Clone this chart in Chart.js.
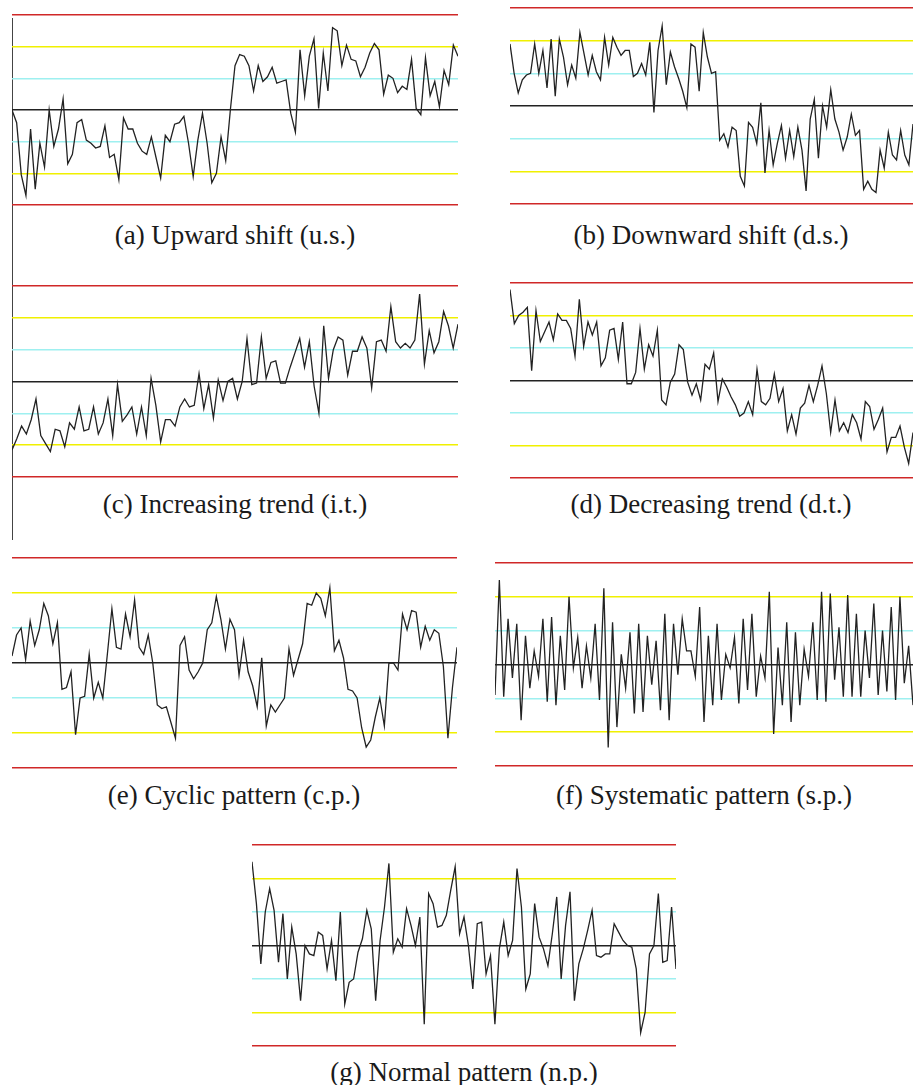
<!DOCTYPE html>
<html>
<head>
<meta charset="utf-8">
<script src="https://cdn.jsdelivr.net/npm/chart.js@4"></script>
<style>
body { margin: 0; background: #fff; width: 913px; height: 1085px; position: relative; overflow: hidden; }
canvas { position: absolute; }
.cap { position: absolute; font-family: "Liberation Serif", "Times New Roman", serif; font-size: 27px; line-height: 28px; color: #1a1a1a; white-space: nowrap; transform: translate(-50%, -50%); }
#axis { position: absolute; left: 12px; top: 18px; width: 1px; height: 522px; background: #444; }
</style>
</head>
<body>
<div id="axis"></div>
<canvas id="cA"></canvas>
<canvas id="cB"></canvas>
<canvas id="cC"></canvas>
<canvas id="cD"></canvas>
<canvas id="cE"></canvas>
<canvas id="cF"></canvas>
<canvas id="cG"></canvas>
<div class="cap" style="left:235px;top:235px">(a) Upward shift (u.s.)</div>
<div class="cap" style="left:711px;top:235px">(b) Downward shift (d.s.)</div>
<div class="cap" style="left:235px;top:504px">(c) Increasing trend (i.t.)</div>
<div class="cap" style="left:711px;top:504px">(d) Decreasing trend (d.t.)</div>
<div class="cap" style="left:234px;top:795px">(e) Cyclic pattern (c.p.)</div>
<div class="cap" style="left:704px;top:795px">(f) Systematic pattern (s.p.)</div>
<div class="cap" style="left:464px;top:1072px">(g) Normal pattern (n.p.)</div>
<script>
// control limits in sigma units
const limitLevels = [-3, -2, -1, 0, 1, 2, 3];
const limitColors = ['#d02828', '#f0f000', '#9ef0f0', '#222222', '#9ef0f0', '#f0f000', '#d02828'];
const limitWidths = [1.5, 1.5, 1.5, 1.4, 1.5, 1.5, 1.5];

const upwardShift = [0, -0.4, -2.05, -2.7, -0.6, -2.5, -1.05, -1.8, 0, -1.15, -0.6, 0.35, -1.7, -1.4, -0.4, -0.3,
  -0.95, -1.05, -1.2, -1.15, -0.5, -1.5, -1.4, -2.2, -0.25, -0.6, -0.6, -1.05, -1.3, -1.4, -0.85, -1.5, -2.15,
  -0.8, -1.0, -0.45, -0.4, -0.2, -1.05, -2.1, -0.95, -0.1, -1.05, -2.3, -2.0, -0.85, -1.6,
  0, 1.4, 1.75, 1.7, 1.4, 0.6, 1.4, 0.9, 1.05, 1.35, 0.85, 0.9, 0.95, -0.1, -0.7, 1.9, 0.45, 1.7, 2.25, 0.05,
  1.8, 0.6, 2.6, 2.5, 1.4, 2.05, 1.6, 1.55, 1.05, 1.35, 1.8, 2.1, 1.9, 0.5, 1.1, 1.0, 0.55, 0.75, 0.65, 1.6,
  0.05, -0.15, 1.65, 0.45, 0.9, 0.1, 1.25, 0.8, 2.05, 1.7];

const downwardShift = [1.9, 1.0, 0.4, 0.8, 0.95, 1.0, 1.9, 1.0, 1.7, 0.55, 2.05, 0.3, 2.05, 1.5, 0.65, 1.25, 0.85,
  2.25, 1.6, 0.95, 1.55, 1.05, 0.8, 2.1, 1.25, 2.1, 1.8, 1.55, 1.7, 1.7, 0.9, 1.0, 1.3, 0.95, 1.95, -0.2, 1.7,
  2.45, 0.65, 1.65, 1.2, 0.85, 0.45, -0.05, 1.9, 1.8, 0.45, 2.25, 1.5, 1.0,
  1.05, -1.05, -0.85, -1.25, -0.65, -0.75, -2.15, -2.45, -0.5, -0.65, -1.15, 0.1, -2.05, -0.75, -1.8, -1.15,
  -0.6, -1.6, -0.75, -1.55, -0.65, -1.35, -2.6, -0.4, 0.2, -1.6, 0, -0.65, 0.5, -0.4, -0.8, -1.35, -0.95,
  -0.25, -0.9, -0.75, -2.55, -2.3, -2.55, -2.65, -1.35, -1.9, -0.8, -1.5, -1.65, -0.75, -1.5, -1.8, -0.55];

const increasingTrend = [-2.15, -1.8, -1.4, -1.65, -1.2, -0.55, -1.7, -1.95, -2.2, -1.5, -1.55, -2.05, -1.3, -1.5,
  -0.8, -1.55, -1.5, -0.8, -1.65, -1.3, -0.55, -1.7, -0.1, -1.25, -1.05, -0.8, -1.65, -0.8, -1.7, 0.1, -0.75,
  -1.9, -1.2, -1.2, -1.4, -0.8, -0.55, -0.8, -0.75, 0.25, -0.85, -0.1, -1.15, 0.05, -0.6, 0,
  0.1, -0.55, 0, 1.35, -0.1, -0.05, 1.4, 0.1, 0.6, 0.65, -0.05, -0.05, 0.45, 0.9, 1.35, 0.45, 1.25, -0.15,
  -1.0, 1.75, 0.1, 1.0, 1.4, 1.3, 0.2, 0.95, 0.95, 1.4, 1.05, -0.2, 1.25, 1.3, 0.95, 2.35, 1.25, 1.05, 1.2,
  1.05, 1.3, 2.75, 0.55, 1.6, 0.9, 1.25, 2.2, 1.75, 1.05, 1.8];

const decreasingTrend = [2.8, 1.75, 2.0, 2.1, 2.25, 0.3, 2.15, 1.2, 1.5, 1.8, 1.25, 2.05, 1.85, 1.85, 1.6, 0.75,
  2.5, 1.05, 1.8, 1.4, 1.8, 0.45, 0.7, 1.55, 1.6, 0.65, 1.8, -0.1, -0.1, 0.25, 1.6, 0.35, 1.1, 0.75, 1.55,
  -0.6, -0.75, -0.05, 0.2, 1.1, 0.95, -0.05, -0.45, -0.1, -0.6, 0.5, 0.35, 0.85, -0.65,
  0.05, -0.2, -0.5, -0.75, -1.1, -1.0, -0.65, -1.05, 0.35, -0.65, -0.75, -0.55, 0.2, -0.65, -0.25, -1.55,
  -1.05, -1.65, -0.85, -0.7, -0.15, -0.65, -0.15, 0.45, -0.4, -1.6, -0.6, -1.55, -1.3, -1.6, -1.05, -1.3,
  -1.8, -0.65, -0.8, -1.5, -1.2, -0.85, -2.2, -1.75, -1.75, -1.4, -2.05, -2.55, -1.6];

const cyclicPattern = [0.2, 0.8, 1.0, 0.1, 1.2, 0.5, 0.95, 1.7, 1.35, 0.55, 1.15, -0.75, -0.7, -0.25, -2.05,
  -1.0, -0.95, 0.25, -1.0, -0.55, -1.0, 0.25, 1.55, 0.45, 0.4, 1.4, 0.75, 1.8, 0.45, 0.25, 0.8, 0, -1.2,
  -1.3, -1.25, -1.7, -2.15, 0.5, 0.75, -0.2, -0.45, -0.25, 0, 0.95, 1.15, 1.9, 1.25, 0.4, 1.25, 0.95, -0.35,
  0.65, -0.25, -0.65, -1.25, 0.15, -1.8, -1.2, -1.4, -1.2, -1.0, 0.4, -0.35, 0.1, 0.55, 1.7, 1.65, 2.0,
  1.85, 1.35, 2.15, 0.35, 0.65, 0.15, -0.75, -0.8, -1.0, -1.85, -2.4, -2.2, -1.55, -1.0, -1.8, 0, 0, -0.2,
  1.4, 0.95, 1.5, 1.45, 0.45, 1.05, 0.65, 0.95, 0.85, -0.1, -2.15, -0.7, 0.45];

const systematicPattern = [-0.9, 2.5, -0.95, 1.35, -0.4, 1.2, -1.65, 0.85, -0.7, 0.4, -0.35, 1.35, -1.1, 1.4,
  -1.2, 0.85, -0.75, 2.0, -0.1, 0.8, -0.7, 0.55, -0.4, 1.2, -1.05, 2.25, -2.45, 1.25, -1.85, 0.3, -0.7, 0.95,
  -1.45, 1.2, -1.4, 0.85, -0.6, 0.7, -1.35, 1.5, -1.65, 1.2, -0.3, 1.35, 0.4, 0.4, -0.35, 1.7, -1.7, 0.85,
  -1.2, 1.2, -1.05, 0.3, -0.1, 0.8, -1.15, 1.35, -0.75, 1.5, -0.95, 0.25, -0.4, 2.15, -2.05, 0.5, -1.2, 1.25,
  -1.7, 0.95, -1.2, 0.45, -0.35, 1.25, -1.05, 2.15, -1.1, 2.1, -0.45, 1.1, -0.95, 2.05, -0.95, 1.5, -0.95,
  1.0, -0.4, 1.8, -0.9, 1.0, -0.8, 1.7, -1.05, 2.0, -0.55, 0.55, -1.2];

const normalPattern = [2.5, 1.25, -0.55, 1.0, 1.7, 1.05, -0.5, 0.95, -1.0, 0.55, -0.25, -1.65, 0, -0.25, -0.3,
  0.4, 0.3, -0.7, 0.15, -1.05, 1.0, -1.75, -1.1, -1.0, -0.2, 0.2, 1.05, 0.5, -1.65, 0.15, 1.15, 2.45, -0.2,
  0.2, -0.05, 1.1, 0.6, 0, 0.85, -2.35, 1.55, 1.25, 0.55, 0.6, 0.9, 1.65, 2.35, 0.35, 0.85,
  0, -1.3, 0.65, 0.7, -0.85, -0.3, -2.35, -0.1, 0.7, -0.3, 0.15, 2.3, 1.15, -1.3, -0.85, 1.25, 0.25, -0.1,
  -0.6, 0.35, 1.45, -1.0, 0.6, 1.6, -1.65, -0.55, -0.1, 0.45, 1.05, -0.3, -0.35, -0.25, -0.25, 0.65, 0.4,
  0.15, 0, -0.05, -0.7, -2.6, -2.0, -0.25, 0, 1.55, -0.5, -0.45, 1.15, -0.7];

const pad = 3;

function makeChart(id, values, left, top, right, bottom) {
  const canvas = document.getElementById(id);
  canvas.width = right - left;
  canvas.height = bottom - top + pad * 2;
  canvas.style.left = left + 'px';
  canvas.style.top = (top - pad) + 'px';

  return new Chart(canvas, {
    type: 'line',
    data: {
      labels: values.map((v, i) => i + 1),
      datasets: [{
        data: values,
        borderColor: '#222',
        borderWidth: 1.3,
        pointRadius: 0,
        tension: 0
      }]
    },
    options: {
      responsive: false,
      animation: false,
      layout: { padding: { top: pad, bottom: pad, left: 0, right: 0 } },
      plugins: { legend: { display: false }, tooltip: { enabled: false } },
      scales: {
        x: { display: false },
        y: {
          min: -3,
          max: 3,
          afterBuildTicks: function (scale) {
            scale.ticks = limitLevels.map(v => ({ value: v }));
          },
          ticks: { display: false },
          border: { display: false },
          grid: {
            drawTicks: false,
            color: ctx => limitColors[limitLevels.indexOf(ctx.tick.value)],
            lineWidth: ctx => limitWidths[limitLevels.indexOf(ctx.tick.value)]
          }
        }
      }
    }
  });
}

// id, data, left, top (red line), right, bottom (red line)
makeChart('cA', upwardShift, 12, 15, 458, 205);
makeChart('cB', downwardShift, 510, 8, 913, 204);
makeChart('cC', increasingTrend, 12, 286, 458, 477);
makeChart('cD', decreasingTrend, 510, 283, 913, 478);
makeChart('cE', cyclicPattern, 12, 558, 457, 768);
makeChart('cF', systematicPattern, 495, 563, 913, 766);
makeChart('cG', normalPattern, 252, 845, 676, 1046);
</script>
</body>
</html>
